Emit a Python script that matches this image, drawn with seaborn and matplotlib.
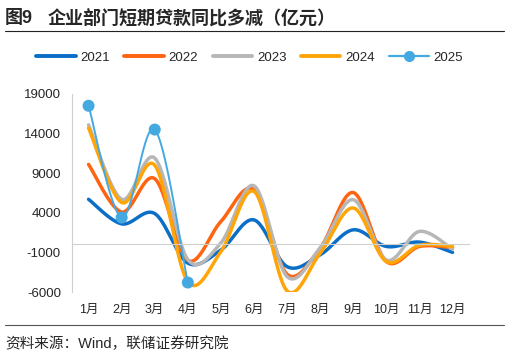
import numpy as np
import pandas as pd
import seaborn as sns
import matplotlib.pyplot as plt
from matplotlib.lines import Line2D

sns.set_style("white")
plt.rcParams['font.family'] = ['Liberation Sans', 'Noto Sans CJK SC', 'DejaVu Sans']

months = ["1月", "2月", "3月", "4月", "5月", "6月", "7月", "8月", "9月", "10月", "11月", "12月"]
y2021 = [5700, 2600, 3900, -2350, -700, 3100, -2800, -1300, 1850, -250, 300, -1000]
y2022 = [10100, 4100, 8300, -2000, 2900, 6900, -3750, -450, 6550, -2150, -250, -400]
y2023 = [15100, 5700, 10900, -1900, 200, 7400, -4050, -450, 5650, -1950, 1650, -600]
y2024 = [14700, 5300, 10000, -4700, -900, 6700, -5850, -1100, 4600, -2150, -100, -250]
y2025 = [17500, 3400, 14500, -4800]

years = ["2021", "2022", "2023", "2024", "2025"]
series = [y2021, y2022, y2023, y2024, y2025]
colors = ["#0b6fc7", "#ff6410", "#b7b7b7", "#ffa508", "#45a9e1"]
widths = [2.5, 2.5, 2.5, 2.5, 1.4]


def smooth(vals, n=30):
    # excel-like smoothed line (catmull-rom as bezier)
    p = np.column_stack([np.arange(len(vals)), np.array(vals, dtype=float)])
    out = []
    for i in range(len(p) - 1):
        p0 = p[i - 1] if i > 0 else p[i]
        p1, p2 = p[i], p[i + 1]
        p3 = p[i + 2] if i + 2 < len(p) else p[i + 1]
        c1 = p1 + (p2 - p0) / 6
        c2 = p2 - (p3 - p1) / 6
        t = np.linspace(0, 1, n)[:, None]
        seg = (1 - t) ** 3 * p1 + 3 * (1 - t) ** 2 * t * c1 + 3 * (1 - t) * t ** 2 * c2 + t ** 3 * p2
        out.append(seg if i == 0 else seg[1:])
    return np.vstack(out)


fig = plt.figure(figsize=(5.09, 3.57), dpi=100)
ax = fig.add_axes([0.1415, 0.182, 0.78, 0.555])

for yr, vals, c, w in zip(years, series, colors, widths):
    s = smooth(vals)
    df = pd.DataFrame({"x": s[:, 0], "y": s[:, 1]})
    sns.lineplot(data=df, x="x", y="y", color=c, linewidth=w, ax=ax, sort=False)

d25 = pd.DataFrame({"x": np.arange(len(y2025)), "y": y2025})
sns.scatterplot(data=d25, x="x", y="y", color=colors[4], s=75, edgecolor="none", ax=ax, zorder=5)

ax.set_xlim(-0.5, 11.5)
ax.set_ylim(-6000, 19000)
ax.set_yticks(np.arange(-6000, 19001, 5000))
ax.set_yticklabels([str(v) for v in range(-6000, 19001, 5000)], fontsize=9.5)
ax.set_xticks(np.arange(-0.5, 12, 1))
ax.set_xticks(np.arange(12), minor=True)
ax.set_xticklabels([])
ax.set_xlabel("")
ax.set_ylabel("")
ax.tick_params(axis="x", which="major", direction="out", length=3, color="#d0d0d0", width=0.8)
ax.tick_params(axis="x", which="minor", length=0)
ax.tick_params(axis="y", direction="out", length=3, color="#d0d0d0", width=0.8, pad=5)
for i, m in enumerate(months):
    ax.text(i, -8250, m, ha="center", va="center", fontsize=9)

sns.despine(ax=ax, top=True, right=True)
ax.spines["left"].set_color("#d0d0d0")
ax.spines["bottom"].set_color("#d0d0d0")
ax.spines["bottom"].set_position(("data", 0))

handles = [Line2D([0], [0], color=c, linewidth=w + 0.3) for c, w in zip(colors[:4], widths[:4])]
handles.append(Line2D([0], [0], color=colors[4], linewidth=1.6, marker="o", markersize=7))
fig.legend(handles, years, loc="center", bbox_to_anchor=(0.49, 0.838), ncol=5, frameon=False,
           fontsize=9.5, handlelength=3.0, columnspacing=1.1, handletextpad=0.35)

fig.text(0.01, 0.948, "图9", fontsize=13, fontweight="bold", va="center")
fig.text(0.093, 0.948, "企业部门短期贷款同比多减（亿元）", fontsize=13, fontweight="bold", va="center")
fig.add_artist(Line2D([0.01, 0.99], [0.913, 0.913], color="#222222", linewidth=0.8))
fig.add_artist(Line2D([0.01, 0.99], [0.09, 0.09], color="#555555", linewidth=0.8))
fig.text(0.01, 0.038, "资料来源：Wind，联储证券研究院", fontsize=10.5, va="center")

fig.savefig("out.png", dpi=100)
